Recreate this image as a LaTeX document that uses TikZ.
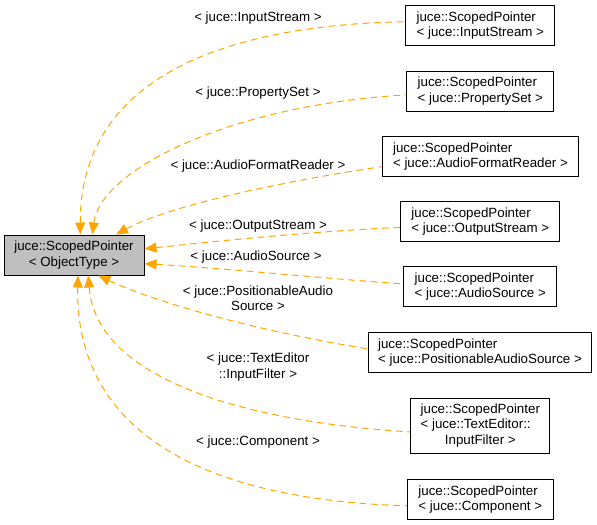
\documentclass[tikz,border=0pt]{standalone}
\usepackage{fontspec}
\setmainfont{Liberation Sans}
\usetikzlibrary{arrows.meta}
\definecolor{basefill}{HTML}{BFBFBF}
\definecolor{edgeorange}{HTML}{FFA500}

\begin{document}
\begin{tikzpicture}[x=0.75pt,y=-0.75pt,>={Triangle[length=9pt,width=7.5pt]},
                    font=\fontsize{10}{11.5}\selectfont,
                    ptr node/.style={draw,line width=0.75pt,align=left,minimum height=30pt,inner xsep=4pt},
                    base node/.style={ptr node,fill=basefill,align=center},
                    inst edge/.style={<-,draw=edgeorange,line width=0.75pt,dash pattern=on 5pt off 3.5pt},
                    tmpl label/.style={align=center,inner sep=1pt}]
    \useasboundingbox (0,0) rectangle (597,525);

    \node[base node, minimum width=105pt] (base) at (74,255) {juce::ScopedPointer\\< ObjectType >};

    \node[ptr node, minimum width=111.8pt] (input) at (480.3,25.7) {juce::ScopedPointer\\< juce::InputStream >};
    \node[ptr node, minimum width=110.3pt] (props) at (480.3,91) {juce::ScopedPointer\\< juce::PropertySet >};
    \node[ptr node, minimum width=146.8pt] (reader) at (480.5,156.3) {juce::ScopedPointer\\< juce::AudioFormatReader >};
    \node[ptr node, minimum width=119.5pt] (output) at (480.3,221.8) {juce::ScopedPointer\\< juce::OutputStream >};
    \node[ptr node, minimum width=114.5pt] (source) at (480.3,286.7) {juce::ScopedPointer\\< juce::AudioSource >};
    \node[ptr node, minimum width=167.5pt] (possource) at (480,352.7) {juce::ScopedPointer\\< juce::PositionableAudioSource >};
    \node[ptr node, minimum width=104.5pt, minimum height=41.25pt] (filter) at (480.3,425.8)
        {\begin{tabular}{@{}l@{}}juce::ScopedPointer\\< juce::TextEditor::\\\multicolumn{1}{@{}c@{}}{InputFilter >}\end{tabular}};
    \node[ptr node, minimum width=109.5pt] (comp) at (480.3,499.3) {juce::ScopedPointer\\< juce::Component >};

    % template arguments
    \node[tmpl label] (lblinput) at (258,18) {< juce::InputStream >};
    \node[tmpl label] (lblprops) at (258,93) {< juce::PropertySet >};
    \node[tmpl label] (lblreader) at (258,166) {< juce::AudioFormatReader >};
    \node[tmpl label] (lbloutput) at (258,226) {< juce::OutputStream >};
    \node[tmpl label] (lblsource) at (256,257) {< juce::AudioSource >};
    \node[tmpl label] (lblpossource) at (258,298) {< juce::PositionableAudio\\Source >};
    \node[tmpl label] (lblfilter) at (258,367) {< juce::TextEditor\\::InputFilter >};
    \node[tmpl label] (lblcomp) at (258,442) {< juce::Component >};

    \draw[inst edge] (base.73) .. controls (80,80) and (220,25) .. (input.177);
    \draw[inst edge] (base.48) .. controls (100,170) and (230,105) .. (props.183);
    \draw[inst edge] (base.26) .. controls (170,205) and (290,180) .. (reader.186);
    \draw[inst edge] (base.5) .. controls (200,243) and (300,232) .. (output.184);
    \draw[inst edge] (base.-7) .. controls (220,268) and (320,278) .. (source.178);
    \draw[inst edge] (base.-40) .. controls (150,300) and (250,330) .. (possource.178);
    \draw[inst edge] (base.-55) .. controls (95,370) and (220,420) .. (filter.185);
    \draw[inst edge] (base.-79) .. controls (75,430) and (200,500) .. (comp.185);
\end{tikzpicture}
\end{document}
